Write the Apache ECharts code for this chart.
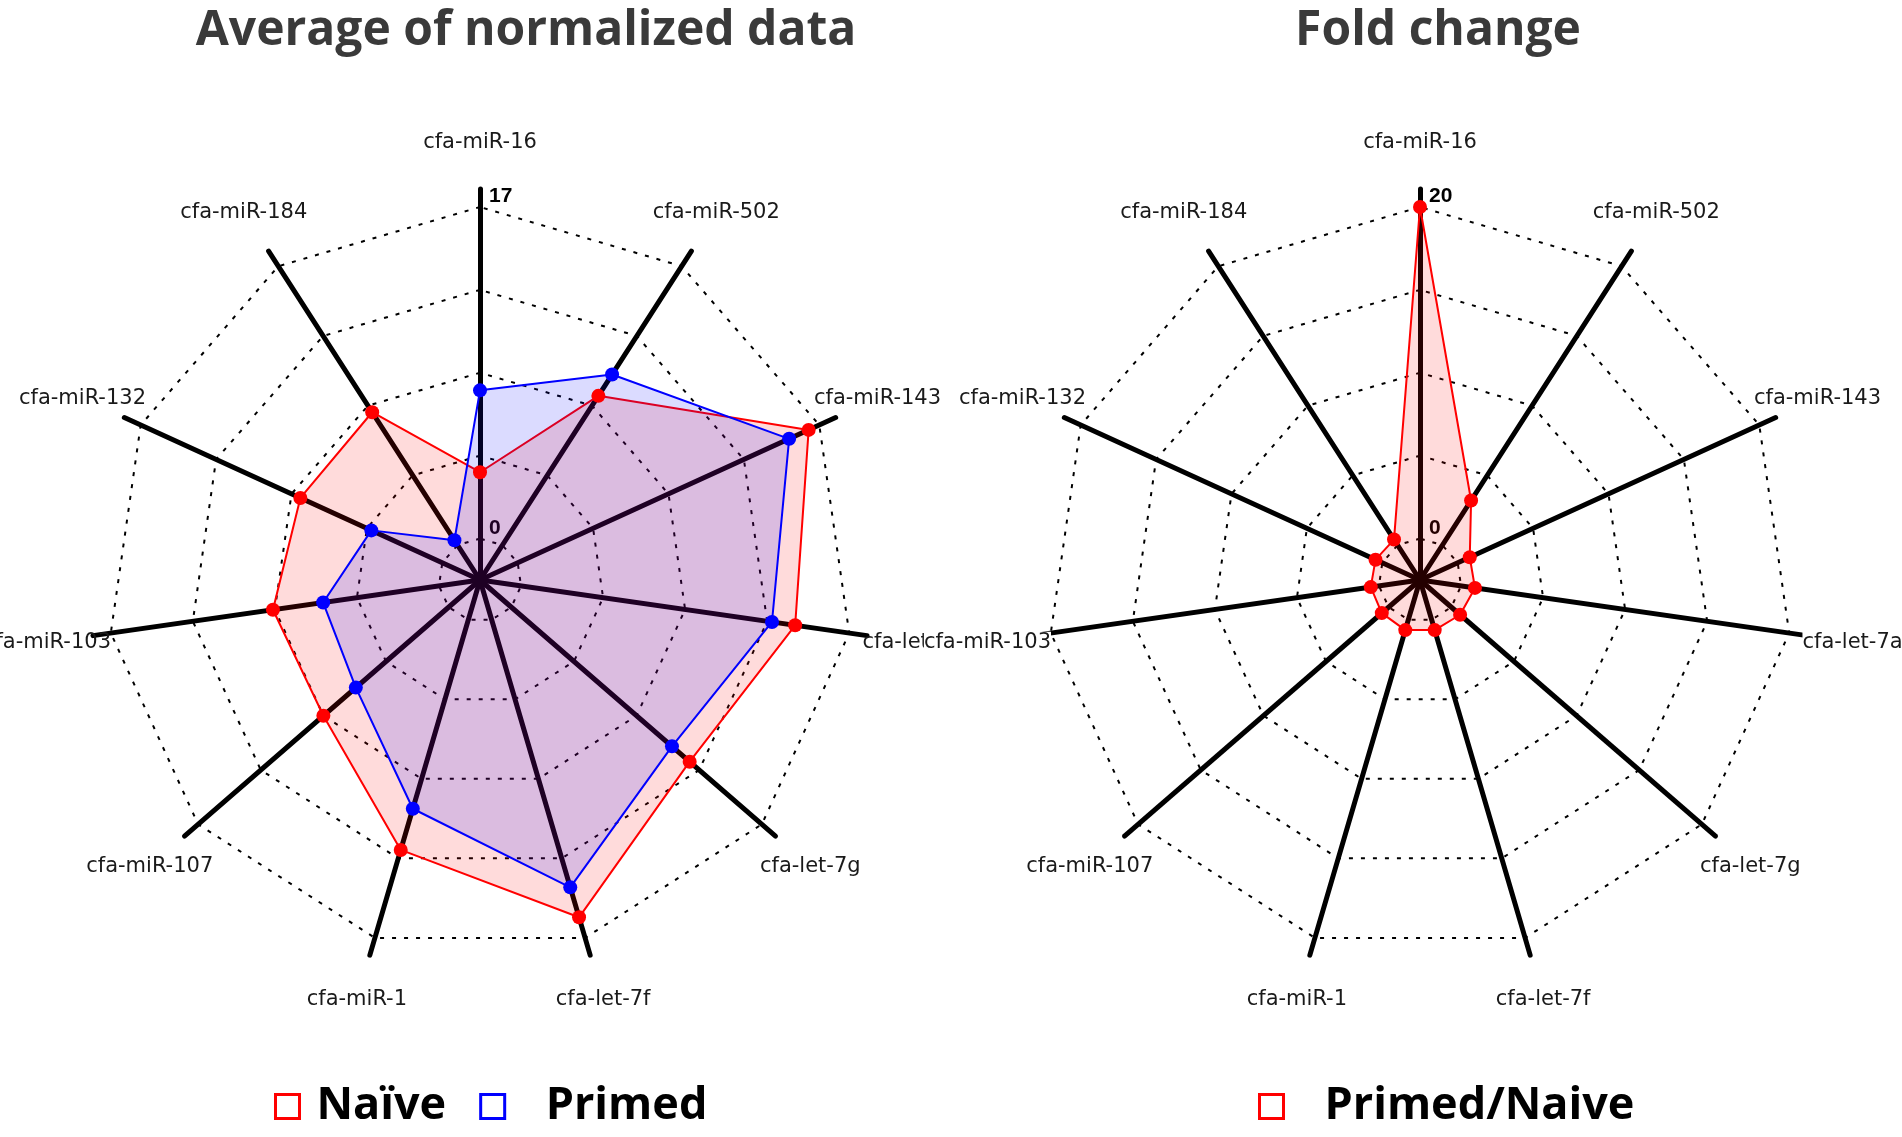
<!DOCTYPE html>
<html><head><meta charset="utf-8">
<script src="https://cdn.jsdelivr.net/npm/echarts@6/dist/echarts.min.js"></script>
<style>html,body{margin:0;padding:0;background:#fff;overflow:hidden}#c{width:1902px;height:1137px}</style>
</head><body><div id="c"></div>
<script>
// ---- data ----
const categories = ['cfa-miR-16','cfa-miR-502','cfa-miR-143','cfa-let-7a','cfa-let-7g','cfa-let-7f','cfa-miR-1','cfa-miR-107','cfa-miR-103','cfa-miR-132','cfa-miR-184'];
const naive  = [3.4, 9.1, 16.4, 14.2, 12.1, 15.9, 12.3, 8.5, 8.6, 8.0, 8.1];
const primed = [7.6, 10.4, 15.3, 13.0, 10.9, 14.3, 10.1, 6.3, 6.0, 4.0, 0.3];
const foldChange = [20, 3.2, 0.8, 0.85, 0.7, 0.65, 0.65, 0.55, 0.5, 0.45, 0.4];
const leftTicks = [0, 17];
const rightTicks = [0, 20];
const titles = ['Average of normalized data', 'Fold change'];
const legendLeftNames = ['Naïve', 'Primed'];
const legendRightNames = ['Primed/Naive'];

// ECharts radar runs counter-clockwise; the reference is clockwise
const order = [0].concat(categories.map((_, i) => i).slice(1).reverse());
const reorder = arr => order.map(i => arr[i]);

const RING_R = 373, AXIS_R = 391, LABEL_R = 437;
const LC = [480, 580], RC = [1420, 580];

function ringRadar(center, ticks, z) {
  const max = ticks[1];
  const min = -max / 8;
  return {
    center: center, radius: RING_R, startAngle: 90, shape: 'polygon', splitNumber: 9, z: z,
    indicator: order.map((i, k) => {
      const ind = { name: categories[i], min: min, max: max };
      if (k === 0) {
        ind.axisLabel = {
          show: true, color: '#000', fontWeight: 'bold', fontSize: 21, fontFamily: 'Liberation Sans',
          margin: -9, align: 'left', verticalAlign: 'bottom',
          formatter: v => { const t = ticks.find(t => Math.abs(t - v) < 1e-6); return t === undefined ? '' : String(t); }
        };
      }
      return ind;
    }),
    axisName: { show: false },
    axisLine: { show: false },
    axisTick: { show: false },
    axisLabel: { show: false },
    splitArea: { show: false },
    splitLine: { show: true, lineStyle: { color: ['rgba(0,0,0,0)', '#000'], width: 2, type: [4, 8] } }
  };
}
function axisRadar(center, z, bg) {
  return {
    center: center, radius: AXIS_R, startAngle: 90, shape: 'polygon', splitNumber: 1, z: z,
    indicator: order.map(i => ({ name: categories[i], min: 0, max: 1 })),
    nameGap: LABEL_R - AXIS_R,
    axisName: { show: true, color: '#1a1a1a', fontSize: 21, fontFamily: 'DejaVu Sans', align: 'center', verticalAlign: 'middle', backgroundColor: bg },
    axisLine: { show: true, lineStyle: { color: '#000', width: 5, cap: 'round' } },
    axisTick: { show: false },
    axisLabel: { show: false },
    splitArea: { show: false },
    splitLine: { show: false }
  };
}

const legendFont = { fontFamily: 'Open Sans', fontWeight: 'bold', fontSize: 45, color: '#000' };
const titleText = { fontFamily: 'Open Sans', fontWeight: 'bold', fontSize: 48, color: '#3a3a3a' };
const boxStyle = c => ({ color: '#fff', borderColor: c, borderWidth: 3 });

const option = {
  animation: false,
  backgroundColor: '#fff',
  title: [
    { text: titles[0], left: 521, top: 2, textAlign: 'center', textStyle: titleText },
    { text: titles[1], left: 1433, top: 2, textAlign: 'center', textStyle: titleText }
  ],
  legend: [
    { data: [
        { name: legendLeftNames[0], icon: 'rect', itemStyle: boxStyle('#ff0000'), textStyle: Object.assign({ padding: [0, 0, 0, 12] }, legendFont) },
        { name: legendLeftNames[1], icon: 'rect', itemStyle: boxStyle('#0000ff'), textStyle: Object.assign({ padding: [0, 0, 0, 36] }, legendFont) }
      ],
      left: 274, top: 1084, padding: 0, itemWidth: 24, itemHeight: 24, itemGap: 33, textStyle: legendFont, selectedMode: false },
    { data: legendRightNames.map(n => ({ name: n, icon: 'rect', itemStyle: boxStyle('#ff0000'), textStyle: Object.assign({ padding: [0, 0, 0, 36] }, legendFont) })),
      left: 1258, top: 1084, padding: 0, itemWidth: 24, itemHeight: 24, textStyle: legendFont, selectedMode: false }
  ],
  radar: [
    ringRadar(LC, leftTicks, 0),
    axisRadar(LC, 0, null),
    ringRadar(RC, rightTicks, 1),
    axisRadar(RC, 1, '#fff')
  ],
  series: [
    { type: 'radar', radarIndex: 0, symbol: 'circle', symbolSize: 14, z: 3,
      data: [
        { name: legendLeftNames[0], value: reorder(naive), itemStyle: { color: '#ff0000' }, lineStyle: { color: '#ff0000', width: 2 }, areaStyle: { color: 'rgba(255,0,0,0.2)' } },
        { name: legendLeftNames[1], value: reorder(primed), itemStyle: { color: '#0000ff' }, lineStyle: { color: '#0000ff', width: 2 }, areaStyle: { color: 'rgba(0,0,255,0.2)' } }
      ] },
    { type: 'radar', radarIndex: 2, symbol: 'circle', symbolSize: 14, z: 3,
      data: [
        { name: legendRightNames[0], value: reorder(foldChange), itemStyle: { color: '#ff0000' }, lineStyle: { color: '#ff0000', width: 2 }, areaStyle: { color: 'rgba(255,0,0,0.2)' } }
      ] }
  ]
};
const chart = echarts.init(document.getElementById('c'), null, { renderer: 'canvas' });
chart.setOption(option);
</script>
</body></html>
